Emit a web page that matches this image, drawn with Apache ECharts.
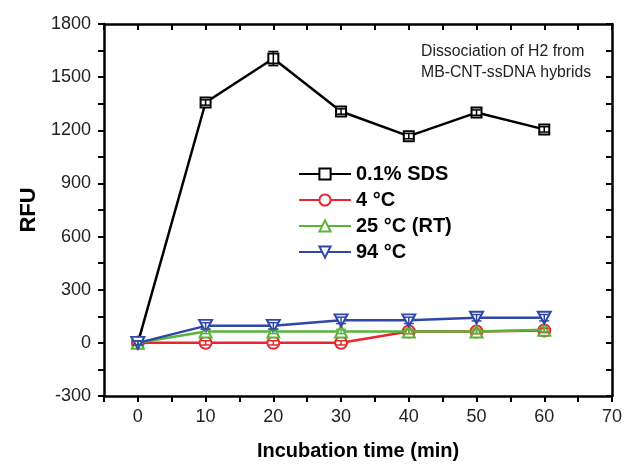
<!DOCTYPE html>
<html><head><meta charset="utf-8">
<script src="https://cdn.jsdelivr.net/npm/echarts@6/dist/echarts.min.js"></script>
<style>html,body{margin:0;padding:0;background:#fff}#c{width:625px;height:466px}</style>
</head><body><div id="c"></div>
<script>
const times = [0, 10, 20, 30, 40, 50, 60];
const seriesNames = ['0.1% SDS', '4 °C', '25 °C (RT)', '94 °C'];
const sdsVals = [0, 1357, 1605, 1306, 1167, 1300, 1205];
const sdsErr = [10, 15, 40, 15, 15, 15, 15];
const c4Vals = [0, 0, 0, 0, 64, 64, 70];
const c4Err = [12, 12, 12, 12, 12, 12, 12];
const c25Vals = [0, 64, 64, 64, 64, 64, 74];
const c25Err = [12, 12, 12, 12, 12, 12, 12];
const c94Vals = [0, 96, 96, 127, 127, 142, 142];
const c94Err = [12, 18, 18, 18, 18, 18, 18];
const colors = ['#000000', '#e8262b', '#5ab43c', '#2f47a6'];
const symbols = ['rect', 'circle', 'triangle', 'path://M0,0 L10,0 L5,9 Z'];
const allVals = [sdsVals, c4Vals, c25Vals, c94Vals];
const allErr = [sdsErr, c4Err, c25Err, c94Err];

const font = 'Liberation Sans, Arial, sans-serif';
const chart = echarts.init(document.getElementById('c'));
const series = [];
allVals.forEach((vals, i) => {
  series.push({
    type: 'line', name: seriesNames[i], xAxisIndex: 0, yAxisIndex: 0,
    data: times.map((t, j) => [t, vals[j]]),
    symbol: symbols[i], symbolSize: i === 3 ? [13, 12] : (i === 0 ? 10 : 12),
    showAllSymbol: true, z: 5 + i,
    lineStyle: { color: colors[i], width: 2.5 },
    itemStyle: { color: '#fff', borderColor: colors[i], borderWidth: 2 }
  });
});
allVals.forEach((vals, i) => {
  series.push({
    type: 'custom', name: seriesNames[i] + '_err', xAxisIndex: 0, yAxisIndex: 0,
    data: times.map((t, j) => [t, vals[j] - allErr[i][j], vals[j] + allErr[i][j]]),
    z: 10 + i, silent: true,
    renderItem: function (params, api) {
      const lo = api.coord([api.value(0), api.value(1)]);
      const hi = api.coord([api.value(0), api.value(2)]);
      const w = 5;
      const st = { stroke: colors[i], lineWidth: 1.5 };
      return { type: 'group', children: [
        { type: 'line', shape: { x1: lo[0], y1: lo[1], x2: hi[0], y2: hi[1] }, style: st },
        { type: 'line', shape: { x1: lo[0] - w, y1: lo[1], x2: lo[0] + w, y2: lo[1] }, style: st },
        { type: 'line', shape: { x1: hi[0] - w, y1: hi[1], x2: hi[0] + w, y2: hi[1] }, style: st }
      ]};
    }
  });
});

const axisLine = { show: true, onZero: false, lineStyle: { color: '#000', width: 2.5 } };
chart.setOption({
  animation: false,
  backgroundColor: '#fff',
  grid: { left: 104, right: 13, top: 24, bottom: 65 },
  legend: {
    orient: 'vertical', left: 298, top: 164, itemGap: 6, padding: 0,
    itemWidth: 52, itemHeight: 14,
    data: seriesNames.map((n, i) => ({ name: n })),
    textStyle: { fontFamily: font, fontWeight: 'bold', fontSize: 20, color: '#000', padding: [0, 0, 0, 0] }
  },
  graphic: [
    { type: 'text', left: 421, top: 41, style: { text: 'Dissociation of H2 from\nMB-CNT-ssDNA hybrids', fontFamily: font, fontSize: 15.8, fill: '#222', lineHeight: 21, align: 'left' } }
  ],
  xAxis: [
    { type: 'value', min: -5, max: 70, interval: 5, position: 'bottom',
      name: 'Incubation time (min)', nameLocation: 'middle', nameGap: 45,
      nameTextStyle: { fontFamily: font, fontWeight: 'bold', fontSize: 20, color: '#000' },
      axisLine: axisLine,
      axisTick: { show: true, inside: false, length: 6, lineStyle: { color: '#000', width: 2 } },
      axisLabel: { fontFamily: font, fontSize: 18, color: '#222', margin: 12,
        formatter: v => (v % 10 === 0 ? String(v) : '') },
      splitLine: { show: false } },
    { type: 'value', min: -5, max: 70, interval: 5, position: 'top',
      axisLine: axisLine,
      axisTick: { show: true, inside: true, length: 6, lineStyle: { color: '#000', width: 2 } },
      axisLabel: { show: false }, splitLine: { show: false } }
  ],
  yAxis: [
    { type: 'value', min: -300, max: 1800, interval: 150, position: 'left',
      name: 'RFU', nameLocation: 'middle', nameGap: 52, nameRotate: 90,
      nameTextStyle: { fontFamily: font, fontWeight: 'bold', fontSize: 22, color: '#000' },
      axisLine: axisLine,
      axisTick: { show: true, inside: false, length: 6, lineStyle: { color: '#000', width: 2 } },
      axisLabel: { fontFamily: font, fontSize: 18, color: '#222', margin: 13,
        formatter: v => (v % 300 === 0 ? String(v) : '') },
      splitLine: { show: false } },
    { type: 'value', min: -300, max: 1800, interval: 150, position: 'right',
      axisLine: axisLine,
      axisTick: { show: true, inside: true, length: 6, lineStyle: { color: '#000', width: 2 } },
      axisLabel: { show: false }, splitLine: { show: false } }
  ],
  series: series
});
</script></body></html>
